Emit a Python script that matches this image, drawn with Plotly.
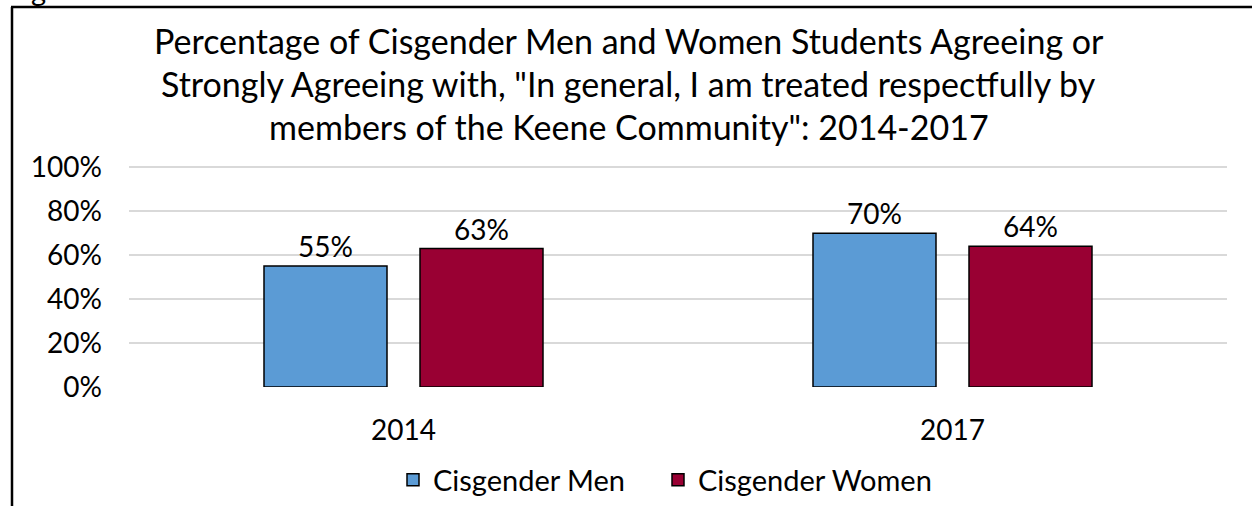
import plotly.graph_objects as go

years = ["2014", "2017"]
men = [0.55, 0.70]
women = [0.63, 0.64]
series_names = ["Cisgender Men", "Cisgender Women"]
title_lines = [
    "Percentage of Cisgender Men and Women Students Agreeing or",
    "Strongly Agreeing with, \"In general, I am treated respectfully by",
    "members of the Keene Community\": 2014-2017",
]
y_ticks = [0, 0.2, 0.4, 0.6, 0.8, 1.0]
y_tick_text = ["0%", "20%", "40%", "60%", "80%", "100%"]

FONT = "Lato"
W, H = 1252, 506
L, R, T, B = 129, 25, 165, 119
PW, PH = W - L - R, H - T - B


def px(x):
    return (x - L) / PW


def py(y):
    return (H - B - y) / PH


fig = go.Figure()
fig.add_trace(go.Bar(
    name=series_names[0], x=years, y=men, legendwidth=220,
    marker=dict(color="#5B9BD5", line=dict(color="#000000", width=1.5)),
    text=[f"{v:.0%}" for v in men], textposition="outside",
    textfont=dict(family=FONT, size=28, color="#000000"), cliponaxis=False,
))
fig.add_trace(go.Bar(
    name=series_names[1], x=years, y=women, legendwidth=260,
    marker=dict(color="#990033", line=dict(color="#000000", width=1.5)),
    text=[f"{v:.0%}" for v in women], textposition="outside",
    textfont=dict(family=FONT, size=28, color="#000000"), cliponaxis=False,
))

annotations = []
centers = [40, 83, 126]
for line, c in zip(title_lines, centers):
    annotations.append(dict(
        text=line, xref="paper", yref="paper", x=px(628.5), y=py(c),
        xanchor="center", yanchor="middle", showarrow=False,
        font=dict(family=FONT, size=34, color="#000000"),
    ))
annotations.append(dict(
    text="g", xref="paper", yref="paper", x=px(38), y=py(-11),
    xanchor="center", yanchor="middle", showarrow=False,
    font=dict(family=FONT, size=29, color="#000000"),
))

shapes = [
    dict(type="line", xref="paper", yref="paper", x0=px(12), x1=px(12),
         y0=py(7), y1=py(520), line=dict(color="#000000", width=2.5)),
    dict(type="line", xref="paper", yref="paper", x0=px(11), x1=px(1270),
         y0=py(7), y1=py(7), line=dict(color="#000000", width=2.5)),
]

fig.update_layout(
    width=W, height=H,
    margin=dict(l=L, r=R, t=T, b=B, pad=0, autoexpand=False),
    paper_bgcolor="#FFFFFF", plot_bgcolor="#FFFFFF",
    barmode="group", bargap=0.4317, bargroupgap=0.2115,
    font=dict(family=FONT, size=28, color="#000000"),
    showlegend=True,
    legend=dict(orientation="h", x=px(393), xanchor="left", y=py(480),
                yanchor="middle", entrywidthmode="pixels",
                font=dict(family=FONT, size=29, color="#000000"),
                bgcolor="rgba(0,0,0,0)", traceorder="normal"),
    xaxis=dict(showgrid=False, showline=False, zeroline=False, ticks="",
               automargin=False,
               tickfont=dict(family=FONT, size=28, color="#000000"),
               ticklabelstandoff=24),
    yaxis=dict(range=[0, 1.01], tickvals=y_ticks, ticktext=y_tick_text,
               automargin=False,
               showgrid=True, gridcolor="#D9D9D9", gridwidth=1.5,
               zeroline=False, showline=False, ticks="",
               tickfont=dict(family=FONT, size=28, color="#000000"),
               ticklabelstandoff=26),
    annotations=annotations,
    shapes=shapes,
)

fig.write_html(
    "out.html",
    config={"displayModeBar": False},
    post_script="document.body.style.margin='0';document.body.style.overflow='hidden';",
)
